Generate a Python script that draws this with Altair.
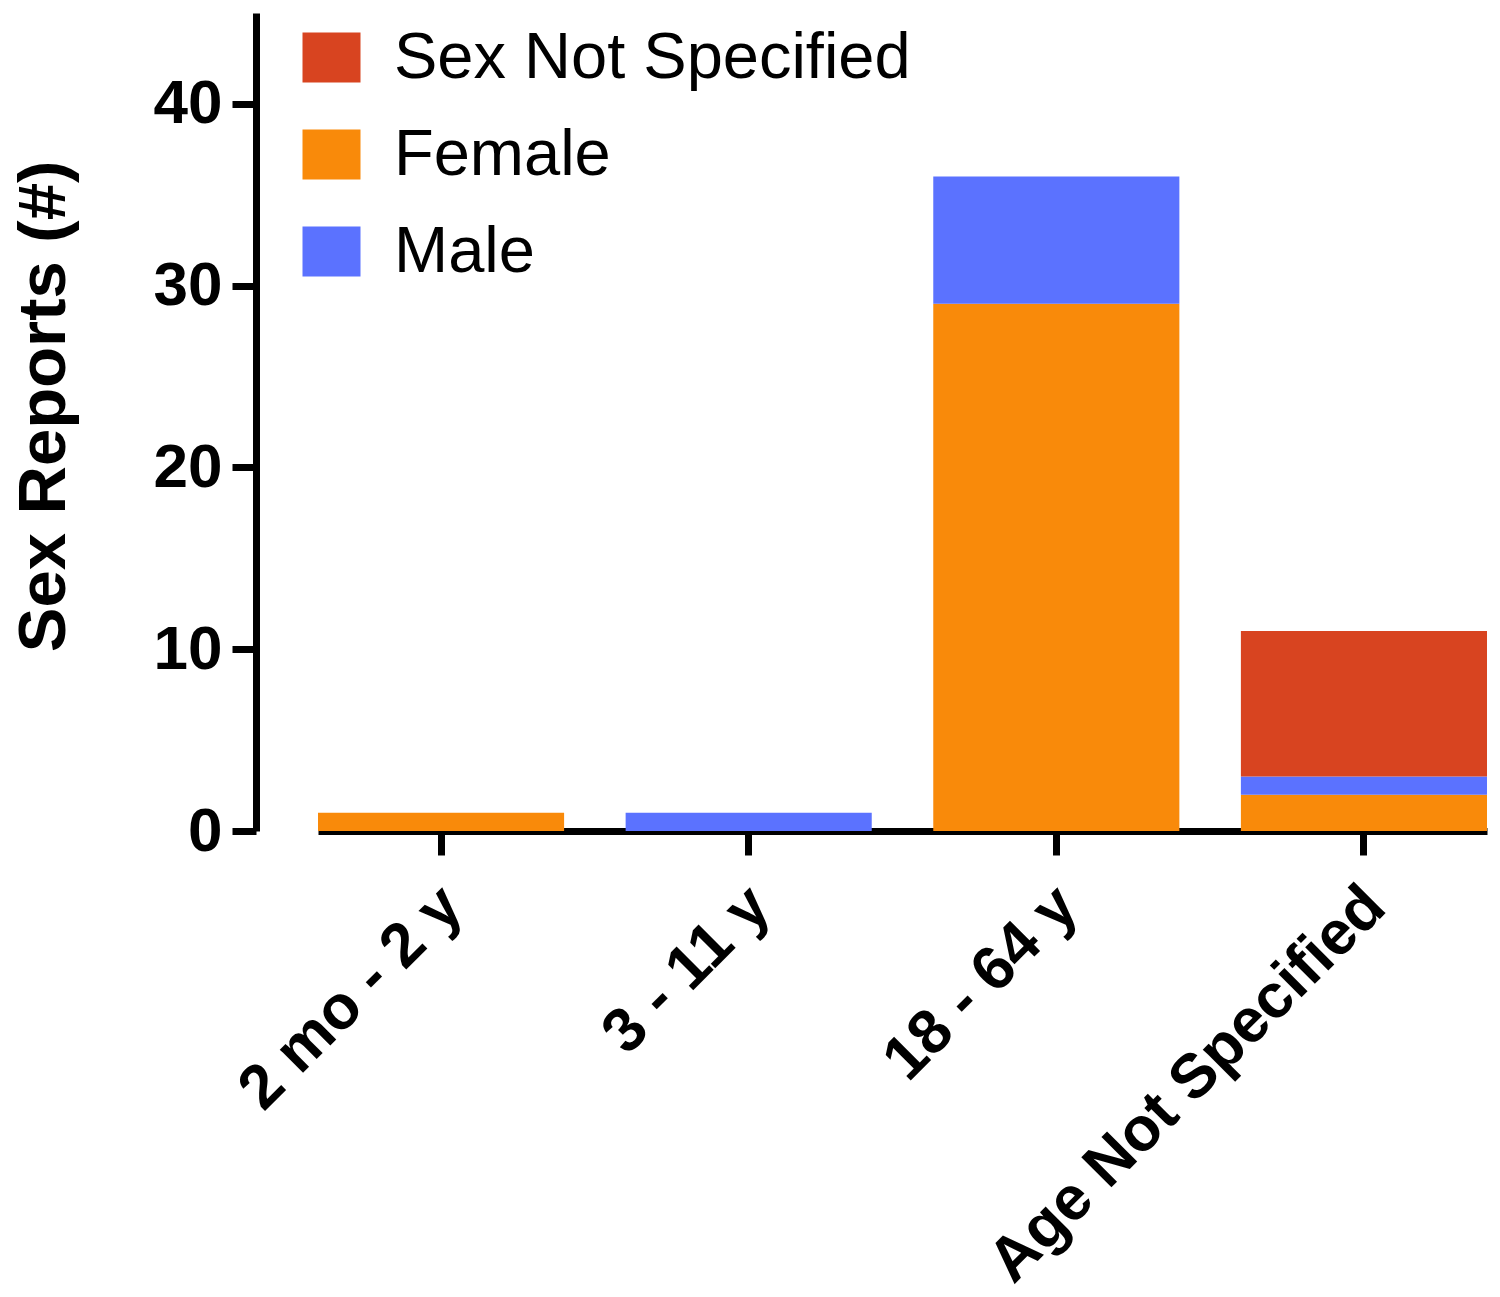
import altair as alt
import pandas as pd

# Age groups on the x axis
age_groups = ["2 mo - 2 y", "3 - 11 y", "18 - 64 y", "Age Not Specified"]

# Report counts per sex for each age group
female = [1, 0, 29, 2]
male = [0, 1, 7, 1]
sex_not_specified = [0, 0, 0, 8]

# Legend order (top to bottom) and colours
series = ["Sex Not Specified", "Female", "Male"]
colors = ["#D84420", "#F98A0A", "#5B72FF"]

# Stacking order: Female at the bottom, then Male, then Sex Not Specified
stack_rank = {"Female": 0, "Male": 1, "Sex Not Specified": 2}

rows = []
for i, group in enumerate(age_groups):
    for name, values in (("Female", female), ("Male", male),
                         ("Sex Not Specified", sex_not_specified)):
        rows.append({"age": group, "sex": name, "count": values[i],
                     "rank": stack_rank[name]})
df = pd.DataFrame(rows)

FONT = "Liberation Sans"

chart = alt.Chart(df).mark_bar(strokeWidth=0).encode(
    x=alt.X(
        "age:N",
        sort=age_groups,
        scale=alt.Scale(range=[62, 1231], paddingInner=0.2, paddingOuter=0),
        axis=alt.Axis(
            title=None,
            labelAngle=-45,
            labelFontSize=62,
            labelFontWeight="bold",
            labelPadding=20,
            labelOffset=-10,
            labelLimit=2000,
        ),
    ),
    y=alt.Y(
        "count:Q",
        stack="zero",
        scale=alt.Scale(domain=[0, 45], nice=False),
        axis=alt.Axis(
            values=[0, 10, 20, 30, 40],
            title="Sex Reports (#)",
            titleFontSize=67,
            titleFontWeight="bold",
            titlePadding=75,
            titleY=393,
            labelFontSize=62,
            labelFontWeight="bold",
            labelPadding=10,
            grid=False,
        ),
    ),
    color=alt.Color(
        "sex:N",
        scale=alt.Scale(domain=series, range=colors),
        legend=alt.Legend(
            title=None,
            orient="none",
            legendX=43,
            legendY=12,
            symbolType="M-1,-0.862L1,-0.862L1,0.862L-1,0.862Z",
            symbolSize=3364,
            symbolStrokeWidth=0,
            symbolOpacity=1,
            labelFontSize=65,
            labelFont=FONT,
            labelColor="black",
            labelOffset=30,
            labelLimit=1000,
            rowPadding=31,
        ),
    ),
    order=alt.Order("rank:Q", sort="ascending"),
).properties(
    width=1234,
    height=818,
    padding={"left": 256, "top": 13, "right": 10, "bottom": 466},
    autosize=alt.AutoSizeParams(type="none"),
).configure_view(
    stroke=None,
).configure_axis(
    domainColor="black",
    domainWidth=7,
    tickColor="black",
    tickWidth=7,
    tickSize=24,
    labelColor="black",
    titleColor="black",
    labelFont=FONT,
    titleFont=FONT,
)

chart.save("out.html", embed_options={"renderer": "svg", "actions": False})
